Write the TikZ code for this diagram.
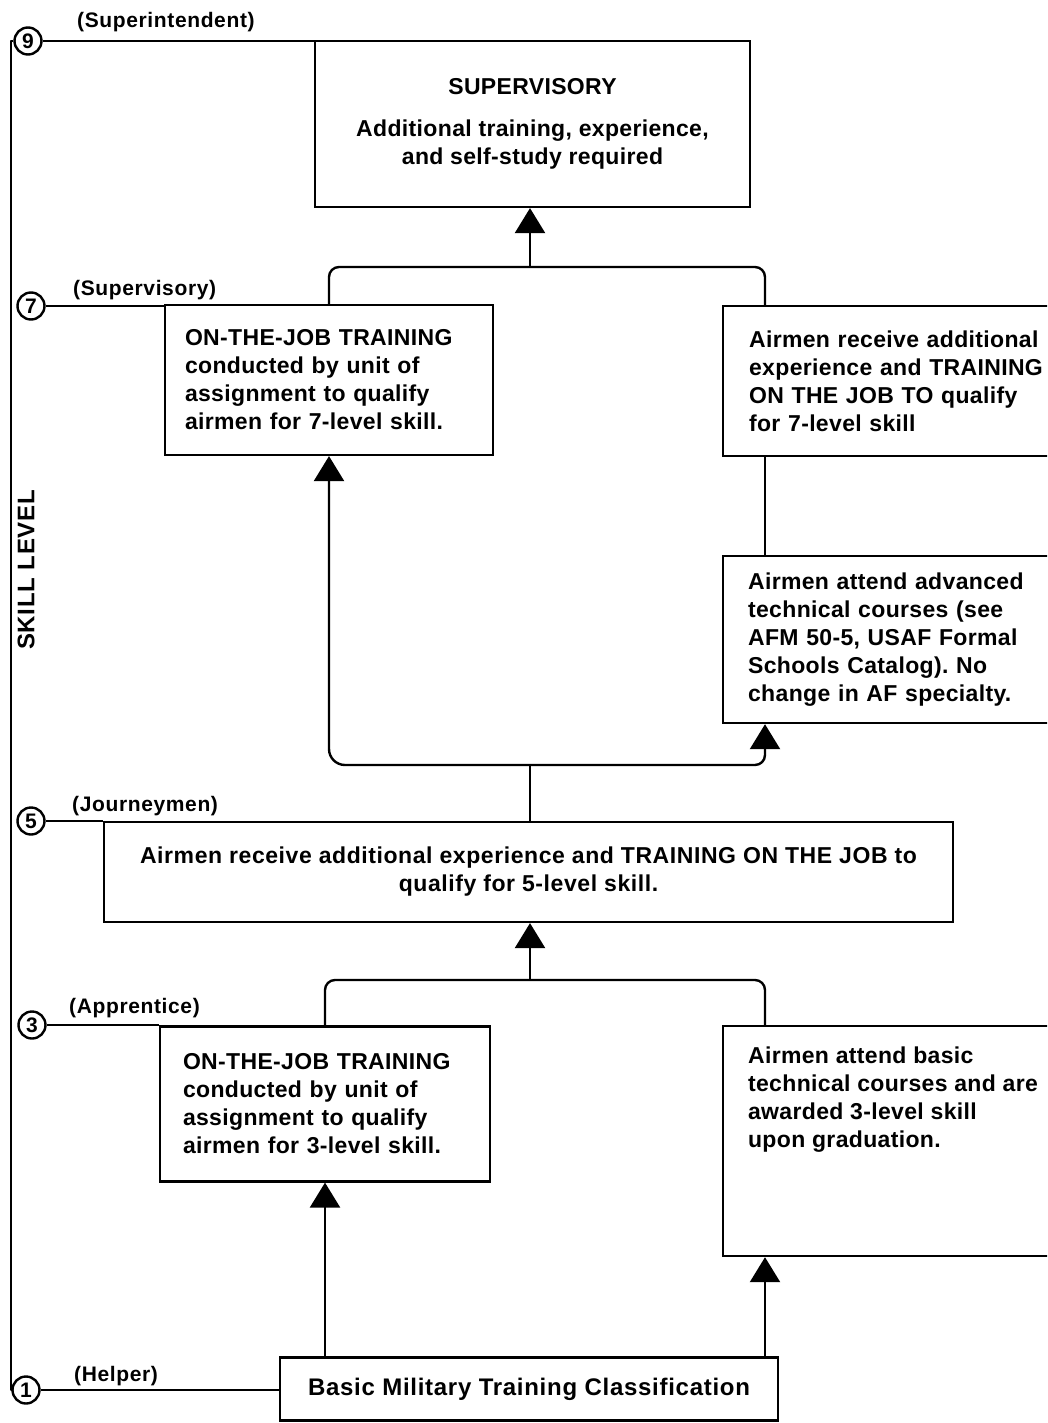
\documentclass[tikz,border=0pt]{standalone}
\usepackage{fontspec}
\setmainfont{Liberation Sans}
\usetikzlibrary{arrows.meta,calc}
\frenchspacing

\newcommand{\boxfont}{\fontsize{23}{28}\selectfont\bfseries\addfontfeature{LetterSpace=1.5}}
\newcommand{\tagfont}{\fontsize{21}{21}\selectfont\bfseries\addfontfeature{LetterSpace=3}}

\tikzset{
  ln/.style={line width=2.4pt, line join=round},
  up/.style={ln, -{Triangle[width=30pt,length=25pt]}},
  box/.style={draw, line width=2.2pt, rectangle, font=\boxfont},
  lbox/.style={box, align=left, inner xsep=0pt},
  lvl/.style={draw, circle, line width=2.4pt, minimum size=27pt, inner sep=0pt,
    font=\fontsize{21}{21}\selectfont\bfseries},
  tag/.style={anchor=west, inner sep=0pt, font=\tagfont},
}

\begin{document}
\begin{tikzpicture}[x=1pt, y=-1pt]
\useasboundingbox (0,0) rectangle (1047,1423);
\clip (0,0) rectangle (1047,1423);

% skill level markers
\node[lvl] (c9) at (28,41) {9};
\node[lvl] (c7) at (31,306) {7};
\node[lvl] (c5) at (31,821) {5};
\node[lvl] (c3) at (32,1025) {3};
\node[lvl] (c1) at (26,1390) {1};
\coordinate (spine) at (11,700);
\coordinate (rx) at (765,0);

\node[tag] (t9) at (77,22) {(Superintendent)};
\node[tag] (t7) at (73,290) {(Supervisory)};
\node[tag] (t5) at (72,806) {(Journeymen)};
\node[tag] (t3) at (69,1008) {(Apprentice)};
\node[tag] (t1) at (74,1376) {(Helper)};

\node[rotate=90, font=\fontsize{24}{24}\selectfont\bfseries\addfontfeature{LetterSpace=3}] (skill) at (26,570) {SKILL LEVEL};

% boxes
\node[box, minimum width=435pt, minimum height=166pt, align=center] (sup) at (532.5,124)
  {SUPERVISORY\\[14pt]Additional training, experience,\\and self-study required};

\node[lbox, minimum width=328pt, minimum height=150pt, text width=288pt] (ojt7) at (329,380)
  {ON-THE-JOB TRAINING\\conducted by unit of\\assignment to qualify\\airmen for 7-level skill.};

\node[box, anchor=north west, align=left, text width=310pt, inner xsep=26pt,
  minimum height=150pt] (r7) at (722,305)
  {Airmen receive additional\\experience and TRAINING\\ON THE JOB TO qualify\\for 7-level skill};

\node[box, anchor=north west, align=left, text width=310pt, inner xsep=25pt,
  minimum height=167pt] (adv) at (722,555)
  {Airmen attend advanced\\technical courses (see\\AFM 50-5, USAF Formal\\Schools Catalog). No\\change in AF specialty.};

\node[box, minimum width=849pt, minimum height=100pt, align=center,
  font=\fontsize{23}{28}\selectfont\bfseries\addfontfeature{LetterSpace=2.5}] (jour) at (528.5,872)
  {Airmen receive additional experience and TRAINING ON THE JOB to\\qualify for 5-level skill.};

\node[lbox, minimum width=330pt, minimum height=155pt, text width=284pt] (ojt3) at (325,1104)
  {ON-THE-JOB TRAINING\\conducted by unit of\\assignment to qualify\\airmen for 3-level skill.};

\node[box, anchor=north west, inner xsep=25pt, inner ysep=21pt] (r3) at (722,1025)
  {\parbox[t][188pt][t]{310pt}{\raggedright Airmen attend basic\\technical courses and are\\awarded 3-level skill\\upon graduation.}};

\node[box, minimum width=498pt, minimum height=63pt,
  font=\fontsize{24}{28}\selectfont\bfseries\addfontfeature{LetterSpace=3}] (bmt) at (529,1389)
  {Basic Military Training Classification};

% skill level scale
\draw[ln] (c9.west) -| (spine) |- (c1.west);
\draw[ln] (c9.east) -- (c9.east -| sup.west);
\draw[ln] (c7.east) -- (c7.east -| ojt7.west);
\draw[ln] (c5.east) -- (c5.east -| jour.west);
\draw[ln] (c3.east) -- (c3.east -| ojt3.west);
\draw[ln] (c1.east) -- (c1.east -| bmt.west);

% level 1 to level 3
\draw[up] (ojt3.south |- bmt.north) -- (ojt3.south);
\draw[up] (rx |- bmt.north) -- (rx |- r3.south);

% level 3 to level 5
\coordinate (j3) at (530,980);
\draw[ln, rounded corners=10pt] (ojt3.north) |- (j3) -| (rx |- r3.north);
\draw[up] (j3) -- (j3 |- jour.south);

% level 5 to level 7
\coordinate (j5) at (530,765);
\draw[ln] (jour.north -| j5) -- (j5);
\draw[up, rounded corners=16pt] (j5) -| (ojt7.south);
\draw[up, rounded corners=10pt] (j5) -| (rx |- adv.south);
\draw[ln] (rx |- adv.north) -- (rx |- r7.south);

% level 7 to level 9
\coordinate (j7) at (530,267);
\draw[ln, rounded corners=10pt] (ojt7.north) |- (j7) -| (rx |- r7.north);
\draw[up] (j7) -- (j7 |- sup.south);
\end{tikzpicture}
\end{document}
